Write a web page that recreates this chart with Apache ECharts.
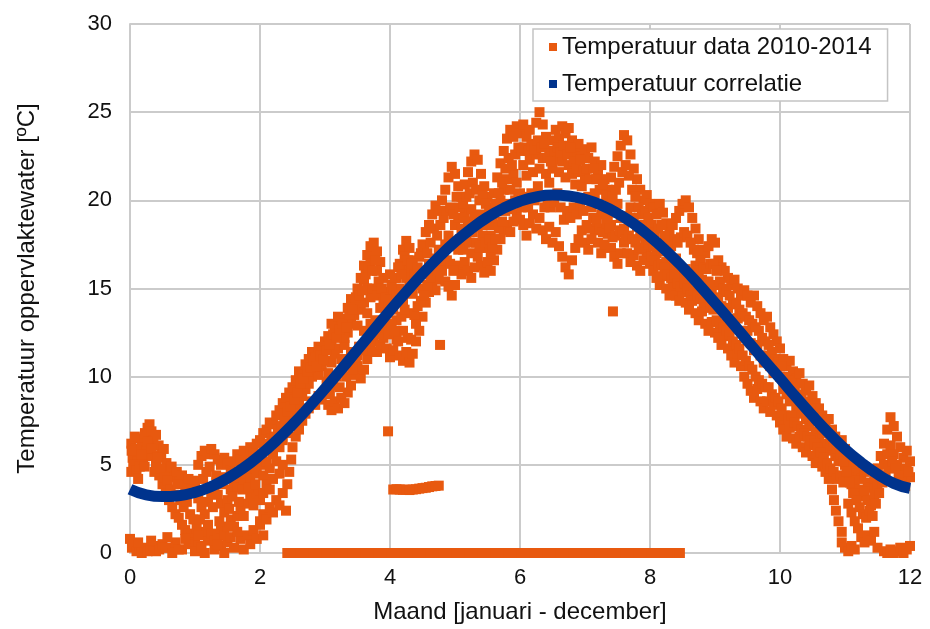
<!DOCTYPE html>
<html>
<head>
<meta charset="utf-8">
<script src="https://cdn.jsdelivr.net/npm/echarts@6/dist/echarts.min.js"></script>
<style>
  html, body { margin: 0; padding: 0; background: #fff; }
  #chart { width: 930px; height: 629px; }
</style>
</head>
<body>
<div id="chart"></div>
<script>
// Daily surface-water temperatures 2010-2014, folded onto one year: [month, °C]
const janFeb = [
  [0.02,6.2],[0.04,5.4],[0.06,4.7],[0.09,5.9],[0.12,5.2],[0.15,6.5],[0.18,6.0],[0.2,5.5],[0.23,6.8],[0.27,7.1],
  [0.3,7.3],[0.33,6.9],[0.36,6.4],[0.4,6.7],[0.44,6.1],[0.48,5.6],[0.52,5.9],[0.56,5.1],[0.6,4.6],[0.64,4.9],
  [0.68,4.3],[0.72,4.6],[0.76,4.0],[0.8,4.4],[0.85,3.8],[0.9,4.2],[0.95,3.6],[1.0,4.1],
  [0.02,4.6],[0.05,5.0],[0.1,4.7],[0.15,4.9],[0.2,5.3],[0.25,5.8],[0.3,5.6],[0.35,5.5],[0.4,5.0],[0.45,4.4],
  [0.5,3.9],[0.55,3.4],[0.6,3.0],[0.65,2.6],[0.7,2.2],[0.75,2.0],[0.8,1.6],[0.85,1.3],[0.9,1.1],[0.95,0.9],
  [1.0,0.6],[1.05,0.4],
  [0.0,0.8],[0.03,0.3],[0.06,0.5],[0.1,0.1],[0.14,0.2],[0.18,0.0],[0.22,0.3],[0.27,0.1],[0.32,0.2],[0.36,0.4],
  [0.4,0.1],[0.45,0.2],[0.5,0.5],[0.55,0.3],[0.6,0.3],[0.65,0.0],[0.7,0.6],[0.75,0.2],[0.8,0.2],[0.9,0.5],
  [1.0,0.1],[1.1,0.3],[1.15,0.0],[1.2,0.7],[1.3,0.2],[1.4,0.4],[1.45,0.0],[1.5,0.6],[1.6,0.3],[1.7,0.8],
  [1.75,0.2],[1.8,1.0],[1.85,0.5],[1.9,1.3],[1.95,0.8],[2.0,1.6],[2.05,1.0],
  [1.05,5.0],[1.1,5.5],[1.15,5.8],[1.2,5.6],[1.25,5.9],[1.3,5.6],[1.35,5.3],[1.4,5.0],[1.45,5.4],[1.5,5.1],
  [1.55,4.7],[1.6,5.2],[1.65,5.6],[1.7,5.3],[1.75,5.8],[1.8,5.5],[1.85,6.0],[1.9,5.7],[1.95,6.2],
  [1.0,3.6],[1.05,3.1],[1.1,2.6],[1.15,2.2],[1.2,2.9],[1.25,3.4],[1.3,3.8],[1.35,3.3],[1.4,2.8],[1.45,2.3],
  [1.5,3.0],[1.55,3.6],[1.6,4.0],[1.65,3.7],[1.7,4.3],[1.75,4.0],[1.8,4.5],[1.85,4.2],[1.9,4.8],[1.95,4.5],
  [1.15,1.2],[1.2,1.6],[1.25,1.1],[1.3,0.7],[1.35,1.0],[1.4,1.4],[1.45,1.0],[1.5,1.5],[1.55,1.9],[1.6,1.5],
  [1.65,2.1],[1.7,2.5],[1.75,2.1],[1.8,2.8],[1.85,3.2],[1.9,2.7],[1.95,3.4],[2.0,3.0],
  [0.025,5.8],[0.075,6.6],[0.125,4.2],[0.175,5.6],[0.225,4.9],[0.275,6.3],[0.325,5.9],[0.375,4.6],[0.425,5.4],[0.475,4.8],
  [0.525,4.3],[0.575,4.1],[0.625,3.6],[0.675,3.3],[0.725,3.9],[0.775,3.0],[0.825,2.6],[0.875,2.9],[0.925,2.2],[0.975,1.9],
  [1.025,1.4],[1.075,1.9],[1.125,4.2],[1.175,4.6],[1.225,4.9],[1.275,2.6],[1.325,4.4],[1.375,1.8],[1.425,3.9],[1.475,4.3],
  [1.525,2.5],[1.575,3.2],[1.625,4.6],[1.675,2.9],[1.725,3.6],[1.775,4.8],[1.825,3.7],[1.875,5.1],[1.925,3.9],[1.975,5.3],
  [0.125,0.6],[0.325,0.7],[0.575,0.9],[0.85,0.8],[1.05,1.0],[1.35,0.5],[1.55,0.9],[1.65,1.2]
];

const marApr = [
  [2.0,6.4],[2.05,6.8],[2.1,7.0],[2.15,7.4],[2.2,7.3],[2.25,7.8],[2.3,8.1],[2.35,8.5],[2.4,8.8],[2.45,9.1],
  [2.5,9.4],[2.55,9.8],[2.6,10.3],[2.65,10.1],[2.7,10.7],[2.75,11.0],[2.8,11.4],[2.85,11.1],[2.9,11.7],[2.95,11.5],
  [2.0,1.8],[2.05,2.2],[2.1,1.9],[2.15,2.6],[2.2,2.3],[2.25,3.0],[2.3,2.7],[2.35,3.4],[2.4,2.4],[2.42,3.9],
  [2.45,4.6],[2.48,5.3],[2.5,6.0],[2.55,6.6],[2.6,7.0],[2.65,7.5],[2.7,7.9],[2.75,8.2],[2.8,8.6],[2.85,8.4],
  [2.9,8.9],[2.95,8.7],
  [2.0,5.0],[2.05,4.4],[2.1,5.2],[2.15,4.8],[2.2,5.6],[2.25,5.2],[2.3,6.0],[2.35,6.4],[2.4,6.8],[2.45,7.2],
  [2.5,7.6],[2.55,8.0],[2.6,8.5],[2.65,8.9],[2.7,9.3],[2.75,9.6],[2.8,10.0],[2.85,10.4],[2.9,10.1],[2.95,10.6],
  [2.05,3.4],[2.1,3.9],[2.15,3.6],[2.2,4.2],[2.3,4.5],[2.35,5.0],
  [3.0,12.0],[3.05,12.3],[3.1,12.0],[3.15,12.6],[3.2,12.9],[3.25,12.4],[3.3,13.3],[3.35,13.9],[3.4,14.4],[3.45,14.1],
  [3.5,15.0],[3.55,15.6],[3.6,16.3],[3.65,16.9],[3.7,17.4],[3.75,17.6],[3.8,17.1],[3.85,16.5],[3.9,15.6],[3.95,14.8],
  [3.0,10.9],[3.05,10.2],[3.1,10.8],[3.15,11.3],[3.2,11.6],[3.25,11.0],[3.3,11.8],[3.35,12.5],[3.4,13.0],[3.45,13.5],
  [3.5,12.9],[3.55,13.8],[3.6,14.2],[3.65,13.6],[3.7,14.5],[3.75,15.0],[3.8,14.6],[3.85,13.9],[3.9,13.2],[3.95,13.6],
  [3.0,9.2],[3.05,8.4],[3.1,8.1],[3.15,8.6],[3.2,8.2],[3.25,8.8],[3.3,8.5],[3.35,9.1],[3.4,9.5],[3.45,10.1],
  [3.5,10.6],[3.55,9.9],[3.6,10.4],[3.65,11.0],[3.7,11.5],[3.75,12.0],[3.8,11.4],[3.85,11.8],[3.9,12.2],[3.95,11.6],
  [3.1,13.0],[3.2,13.4],[3.3,12.2],[3.4,11.4],[3.5,11.2],[3.6,12.6],[3.7,13.0],[3.8,12.8],[3.9,14.2],[3.6,15.5],
  [3.7,16.4],[3.8,16.0],[3.65,15.0],
  [2.025,5.6],[2.075,6.0],[2.125,6.2],[2.175,6.5],[2.225,6.6],[2.275,7.0],[2.325,7.2],[2.375,7.6],[2.425,8.0],[2.475,8.3],
  [2.525,8.7],[2.575,9.1],[2.625,9.6],[2.675,9.9],[2.725,10.3],[2.775,10.5],[2.825,10.9],[2.875,10.6],[2.925,11.2],[2.975,11.0],
  [3.025,11.5],[3.075,11.8],[3.125,12.4],[3.175,12.2],[3.225,12.7],[3.275,13.0],[3.325,12.8],[3.375,13.5],[3.425,13.8],[3.475,14.5],
  [3.525,14.6],[3.575,14.9],[3.625,15.8],[3.675,16.2],[3.725,16.0],[3.775,16.6],[3.825,15.4],[3.875,15.0],[3.925,14.5],[3.975,14.0],
  [3.025,9.7],[3.075,9.0],[3.125,9.5],[3.175,10.0],[3.225,9.4],[3.275,10.4],[3.325,10.0],[3.375,10.7],[3.425,10.4],[3.475,11.1],
  [3.525,11.7],[3.575,11.5],[3.625,11.9],[3.675,12.3],[3.725,12.6],[3.775,13.2],[3.825,12.4],[3.875,12.7],[3.925,12.8],[3.975,12.4]
];

const mayJun = [
  [4.0,14.2],[4.05,14.8],[4.1,15.6],[4.15,16.4],[4.2,17.2],[4.25,17.7],[4.3,17.3],[4.35,16.6],[4.4,16.0],[4.45,16.8],
  [4.5,17.5],[4.55,18.2],[4.6,18.6],[4.65,19.2],[4.7,19.7],[4.75,19.4],[4.8,20.0],[4.85,20.6],[4.9,21.3],[4.95,21.9],
  [4.0,14.4],[4.05,13.8],[4.1,14.6],[4.15,15.0],[4.2,14.3],[4.25,14.8],[4.3,15.3],[4.35,14.7],[4.4,15.2],[4.45,15.6],
  [4.5,15.0],[4.55,15.8],[4.6,16.4],[4.65,15.9],[4.7,16.7],[4.75,17.2],[4.8,16.5],[4.85,17.5],[4.9,18.0],[4.95,17.4],
  [4.0,11.1],[4.05,11.5],[4.1,12.1],[4.15,11.2],[4.2,10.9],[4.25,11.4],[4.3,10.8],[4.35,11.3],[4.4,12.0],[4.45,12.6],
  [4.5,13.4],[4.55,14.2],[4.6,14.8],[4.65,15.3],[4.7,14.9],[4.75,15.5],[4.8,16.0],[4.85,15.4],[4.9,15.1],[4.95,14.6],
  [4.0,15.8],[4.1,13.2],[4.2,12.6],[4.3,13.6],[4.4,13.0],[4.2,16.3],[4.3,16.0],[4.25,15.6],
  [5.0,21.5],[5.05,20.8],[5.1,20.2],[5.15,20.9],[5.2,21.6],[5.25,22.2],[5.3,22.6],[5.35,22.3],[5.4,21.5],[5.45,20.8],
  [5.5,20.2],[5.55,19.6],[5.6,20.4],[5.65,21.3],[5.7,22.1],[5.75,22.8],[5.8,23.5],[5.85,24.0],[5.9,23.6],[5.95,24.2],
  [5.0,18.6],[5.05,19.0],[5.1,18.4],[5.15,19.3],[5.2,18.8],[5.25,19.5],[5.3,19.0],[5.35,18.5],[5.4,19.2],[5.45,18.6],
  [5.5,19.0],[5.55,18.0],[5.6,18.6],[5.65,19.4],[5.7,20.0],[5.75,20.6],[5.8,21.2],[5.85,20.6],[5.9,21.5],[5.95,21.0],
  [5.0,15.2],[5.05,16.3],[5.1,15.8],[5.15,16.5],[5.2,16.0],[5.25,15.6],[5.3,16.2],[5.35,16.8],[5.4,16.3],[5.45,15.9],
  [5.5,16.5],[5.55,16.0],[5.6,16.6],[5.65,17.2],[5.7,17.8],[5.75,18.3],[5.8,18.6],[5.85,18.2],[5.9,18.8],[5.95,19.2],
  [5.05,17.2],[5.15,17.6],[5.25,17.0],[5.45,17.3],[5.55,17.0],
  [4.025,13.0],[4.075,12.6],[4.125,12.0],[4.175,13.4],[4.225,13.8],[4.275,12.2],[4.325,12.1],[4.375,13.5],[4.425,14.0],[4.475,14.3],
  [4.525,14.6],[4.575,15.2],[4.625,15.6],[4.675,16.2],[4.725,16.0],[4.775,16.8],[4.825,17.0],[4.875,16.6],[4.925,16.4],[4.975,16.0],
  [4.025,15.2],[4.075,15.6],[4.125,16.2],[4.175,15.8],[4.225,16.8],[4.275,16.6],[4.325,16.4],[4.375,15.8],[4.425,16.2],[4.475,17.0],
  [4.525,17.4],[4.575,17.0],[4.625,17.6],[4.675,18.4],[4.725,18.0],[4.775,18.6],[4.825,19.0],[4.875,19.4],[4.925,19.6],[4.975,19.2],
  [5.025,20.2],[5.075,19.6],[5.125,19.8],[5.175,20.2],[5.225,20.4],[5.275,21.0],[5.325,20.6],[5.375,20.0],[5.425,20.3],[5.475,19.8],
  [5.525,19.4],[5.575,19.0],[5.625,19.8],[5.675,20.4],[5.725,21.0],[5.775,21.8],[5.825,22.4],[5.875,22.0],[5.925,22.6],[5.975,23.0],
  [5.025,17.6],[5.075,17.8],[5.125,17.2],[5.175,18.0],[5.225,17.6],[5.275,18.2],[5.325,17.6],[5.375,17.3],[5.425,18.0],[5.475,17.6],
  [5.525,17.8],[5.575,17.3],[5.625,17.8],[5.675,18.4],[5.725,18.8],[5.775,19.4],[5.825,19.8],[5.875,19.5],[5.925,20.0],[5.975,20.2]
];

const julAug = [
  [6.0,23.8],[6.05,24.3],[6.1,23.6],[6.15,24.0],[6.2,23.2],[6.25,24.4],[6.3,25.0],[6.35,24.3],[6.4,23.6],[6.45,22.8],
  [6.5,23.4],[6.55,24.0],[6.6,23.5],[6.65,24.2],[6.7,23.8],[6.75,24.1],[6.8,23.4],[6.85,22.7],[6.9,23.2],[6.95,22.5],
  [6.0,20.4],[6.05,22.0],[6.1,21.4],[6.15,22.3],[6.2,21.6],[6.25,22.6],[6.3,21.8],[6.35,22.4],[6.4,21.5],[6.45,21.0],
  [6.5,21.8],[6.55,22.3],[6.6,21.6],[6.65,22.2],[6.7,21.3],[6.75,22.0],[6.8,21.5],[6.85,20.9],[6.9,21.6],[6.95,20.8],
  [6.0,18.9],[6.05,18.6],[6.1,18.0],[6.15,18.7],[6.2,19.2],[6.25,18.4],[6.3,19.0],[6.35,18.3],[6.4,17.8],[6.45,18.5],
  [6.5,17.6],[6.55,18.2],[6.6,17.4],[6.65,16.8],[6.7,16.2],[6.75,15.8],[6.8,16.6],[6.85,17.3],[6.9,17.8],[6.95,18.3],
  [7.0,22.9],[7.05,22.4],[7.1,23.0],[7.15,22.2],[7.2,21.6],[7.25,22.0],[7.3,21.2],[7.35,20.6],[7.4,21.3],[7.45,21.9],
  [7.5,22.5],[7.55,23.1],[7.6,23.7],[7.65,23.4],[7.7,22.6],[7.75,21.8],[7.8,21.2],[7.85,20.6],[7.9,20.0],[7.95,20.3],
  [7.0,21.3],[7.05,20.2],[7.1,19.6],[7.15,20.4],[7.2,19.8],[7.25,19.2],[7.3,19.7],[7.35,19.0],[7.4,18.6],[7.45,19.3],
  [7.5,19.8],[7.55,19.0],[7.6,18.4],[7.65,19.1],[7.7,19.6],[7.75,19.0],[7.8,18.5],[7.85,18.0],[7.9,18.6],[7.95,18.2],
  [7.0,17.6],[7.05,17.2],[7.1,17.8],[7.15,18.3],[7.2,17.6],[7.25,17.0],[7.3,17.5],[7.35,18.1],[7.4,17.3],[7.45,16.8],
  [7.5,16.4],[7.55,17.0],[7.6,17.6],[7.65,17.0],[7.7,16.5],[7.75,16.9],[7.8,16.3],[7.85,16.0],[7.9,16.6],[7.95,17.1],
  [6.025,22.8],[6.075,23.0],[6.125,22.8],[6.175,23.1],[6.225,22.9],[6.275,23.4],[6.325,23.0],[6.375,23.2],[6.425,22.4],[6.475,22.2],
  [6.525,22.8],[6.575,23.0],[6.625,22.7],[6.675,23.1],[6.725,22.6],[6.775,23.0],[6.825,22.2],[6.875,21.8],[6.925,22.3],[6.975,21.7],
  [6.025,19.6],[6.075,20.2],[6.125,19.6],[6.175,20.4],[6.225,20.0],[6.275,20.8],[6.325,20.3],[6.375,19.6],[6.425,19.8],[6.475,19.6],
  [6.525,19.9],[6.575,20.4],[6.625,19.6],[6.675,18.9],[6.725,19.4],[6.775,19.0],[6.825,19.6],[6.875,19.2],[6.925,19.7],[6.975,19.4],
  [7.025,21.8],[7.075,21.2],[7.125,21.8],[7.175,21.2],[7.225,20.6],[7.275,20.9],[7.325,20.3],[7.375,19.8],[7.425,20.2],[7.475,20.6],
  [7.525,21.0],[7.575,21.6],[7.625,22.0],[7.675,21.4],[7.725,20.6],[7.775,20.2],[7.825,19.6],[7.875,19.2],[7.925,19.4],[7.975,19.0],
  [7.025,18.6],[7.075,18.4],[7.125,19.0],[7.175,18.8],[7.225,18.4],[7.275,18.2],[7.325,18.7],[7.375,18.4],[7.425,17.9],[7.475,18.0],
  [7.525,18.3],[7.575,18.2],[7.625,17.8],[7.675,18.0],[7.725,17.8],[7.775,17.6],[7.825,17.2],[7.875,17.3],[7.925,17.6],[7.975,17.5]
];

const sepOct = [
  [8.0,19.8],[8.05,19.6],[8.1,19.2],[8.15,19.8],[8.2,19.3],[8.25,18.7],[8.3,18.2],[8.35,18.6],[8.4,19.0],[8.45,19.4],
  [8.5,19.8],[8.55,20.0],[8.6,19.6],[8.65,19.0],[8.7,18.4],[8.75,17.8],[8.8,17.2],[8.85,17.0],[8.9,17.4],[8.95,17.8],
  [8.0,17.8],[8.05,17.4],[8.1,17.0],[8.15,17.6],[8.2,17.1],[8.25,16.5],[8.3,16.9],[8.35,16.2],[8.4,16.7],[8.45,16.0],
  [8.5,15.6],[8.55,16.1],[8.6,15.5],[8.65,15.8],[8.7,16.3],[8.75,16.0],[8.8,15.5],[8.85,15.0],[8.9,15.4],[8.95,14.8],
  [8.0,16.4],[8.05,16.0],[8.1,15.6],[8.15,15.2],[8.2,15.7],[8.25,15.0],[8.3,14.6],[8.35,15.1],[8.4,14.6],[8.45,14.3],
  [8.5,14.8],[8.55,14.2],[8.6,13.8],[8.65,14.3],[8.7,13.6],[8.75,13.2],[8.8,13.7],[8.85,13.0],[8.9,12.6],[8.95,13.1],
  [9.0,17.6],[9.05,16.6],[9.1,16.2],[9.15,16.0],[9.2,15.6],[9.25,15.2],[9.3,15.5],[9.35,15.0],[9.4,14.6],[9.45,14.9],
  [9.5,14.6],[9.55,14.2],[9.6,14.6],[9.65,14.0],[9.7,13.6],[9.75,13.2],[9.8,13.4],[9.85,12.8],[9.9,12.4],[9.95,12.0],
  [9.0,15.2],[9.05,14.5],[9.1,14.0],[9.15,13.6],[9.2,13.9],[9.25,13.3],[9.3,12.9],[9.35,13.3],[9.4,12.6],[9.45,12.2],
  [9.5,12.6],[9.55,11.9],[9.6,11.5],[9.65,11.8],[9.7,11.2],[9.75,10.8],[9.8,11.2],[9.85,10.6],[9.9,10.2],[9.95,10.5],
  [9.0,12.5],[9.05,12.2],[9.1,11.8],[9.15,12.3],[9.2,11.6],[9.25,11.2],[9.3,10.8],[9.35,11.3],[9.4,10.6],[9.45,10.0],
  [9.5,9.6],[9.55,9.2],[9.6,8.8],[9.65,9.3],[9.7,8.6],[9.75,8.2],[9.8,8.6],[9.85,8.0],[9.9,8.4],[9.95,7.8],
  [8.025,18.6],[8.075,18.2],[8.125,18.4],[8.175,18.6],[8.225,18.0],[8.275,17.7],[8.325,17.4],[8.375,17.8],[8.425,17.6],[8.475,17.9],
  [8.525,18.2],[8.575,18.0],[8.625,17.6],[8.675,17.2],[8.725,17.0],[8.775,16.6],[8.825,16.2],[8.875,16.1],[8.925,16.4],[8.975,16.4],
  [8.025,16.8],[8.075,16.6],[8.125,16.3],[8.175,16.4],[8.225,16.2],[8.275,15.8],[8.325,15.6],[8.375,15.8],[8.425,15.3],[8.475,15.1],
  [8.525,15.3],[8.575,15.0],[8.625,14.6],[8.675,14.9],[8.725,14.6],[8.775,14.4],[8.825,14.2],[8.875,13.9],[8.925,14.0],[8.975,13.8],
  [9.025,16.0],[9.075,15.4],[9.125,15.0],[9.175,14.8],[9.225,14.6],[9.275,14.2],[9.325,14.1],[9.375,13.8],[9.425,13.6],[9.475,13.4],
  [9.525,13.2],[9.575,13.0],[9.625,12.8],[9.675,12.6],[9.725,12.2],[9.775,12.0],[9.825,11.8],[9.875,11.4],[9.925,11.0],[9.975,10.8],
  [9.025,13.2],[9.075,13.0],[9.125,12.8],[9.175,12.6],[9.225,12.4],[9.275,12.0],[9.325,11.8],[9.375,11.6],[9.425,11.2],[9.475,10.9],
  [9.525,10.6],[9.575,10.4],[9.625,10.0],[9.675,9.8],[9.725,9.6],[9.775,9.4],[9.825,9.4],[9.875,9.0],[9.925,8.8],[9.975,8.6]
];

const novDec = [
  [10.0,11.6],[10.05,11.0],[10.1,10.6],[10.15,10.9],[10.2,10.3],[10.25,9.9],[10.3,10.2],[10.35,9.6],[10.4,9.2],[10.45,9.5],
  [10.5,8.9],[10.55,8.5],[10.6,8.2],[10.65,7.8],[10.7,7.4],[10.75,7.6],[10.8,7.0],[10.85,6.6],[10.9,6.2],[10.95,6.4],
  [10.0,10.0],[10.05,9.3],[10.1,9.0],[10.15,8.6],[10.2,8.9],[10.25,8.3],[10.3,7.9],[10.35,8.2],[10.4,7.6],[10.45,7.2],
  [10.5,7.5],[10.55,6.9],[10.6,6.5],[10.65,6.8],[10.7,6.2],[10.75,5.8],[10.8,6.1],[10.85,5.5],[10.9,5.2],[10.95,5.6],
  [10.0,7.4],[10.05,7.0],[10.1,6.6],[10.15,7.1],[10.2,6.5],[10.25,6.2],[10.3,6.6],[10.35,6.0],[10.4,5.7],[10.45,6.1],
  [10.5,5.5],[10.55,5.1],[10.6,5.5],[10.65,4.9],[10.7,4.6],[10.75,4.2],[10.8,3.6],[10.83,3.0],[10.86,2.4],[10.9,1.8],
  [10.95,1.2],
  [11.0,5.9],[11.05,5.2],[11.1,4.8],[11.15,5.0],[11.2,4.5],[11.25,4.2],[11.3,4.6],[11.35,4.0],[11.4,3.7],[11.45,4.2],
  [11.5,4.8],[11.55,5.5],[11.6,6.2],[11.65,7.0],[11.7,7.7],[11.75,7.2],[11.8,6.6],[11.85,6.0],[11.9,5.4],[11.95,5.8],
  [12.0,5.2],
  [11.0,5.0],[11.05,4.3],[11.1,3.9],[11.15,4.1],[11.2,3.6],[11.25,3.2],[11.3,3.5],[11.35,3.0],[11.4,2.7],[11.45,3.3],
  [11.5,3.8],[11.55,4.4],[11.6,5.0],[11.65,5.6],[11.7,6.1],[11.75,5.6],[11.8,5.0],[11.85,4.6],[11.9,4.2],[11.95,4.8],
  [12.0,4.3],
  [11.05,2.8],[11.1,2.3],[11.15,1.8],[11.2,1.4],[11.25,0.9],[11.3,0.6],[11.35,1.0],[11.4,0.7],[11.45,1.2],
  [10.95,0.6],[11.0,0.3],[11.05,0.1],[11.1,0.4],[11.15,0.2],[11.5,0.3],[11.6,0.1],[11.65,0.0],[11.7,0.2],[11.75,0.0],
  [11.8,0.1],[11.85,0.3],[11.9,0.0],[11.95,0.2],[12.0,0.4],
  [10.025,10.6],[10.075,10.0],[10.125,9.8],[10.175,9.6],[10.225,9.4],[10.275,9.0],[10.325,8.9],[10.375,8.6],[10.425,8.4],[10.475,8.2],
  [10.525,7.9],[10.575,7.6],[10.625,7.2],[10.675,7.0],[10.725,6.8],[10.775,6.5],[10.825,6.3],[10.875,5.9],[10.925,5.6],[10.975,5.2],
  [10.025,8.2],[10.075,7.8],[10.125,7.6],[10.175,7.8],[10.225,7.4],[10.275,7.2],[10.325,7.0],[10.375,6.8],[10.425,6.6],[10.475,6.4],
  [10.525,6.2],[10.575,6.0],[10.625,5.7],[10.675,5.4],[10.725,5.1],[10.775,4.8],[10.825,4.6],[10.875,4.2],[10.925,4.4],[10.975,4.0],
  [11.025,4.6],[11.075,4.0],[11.125,3.4],[11.175,3.0],[11.225,2.6],[11.275,2.2],[11.325,2.0],[11.375,2.4],[11.425,2.1],[11.475,2.8],
  [11.525,3.4],[11.575,4.0],[11.625,4.4],[11.675,4.8],[11.725,5.2],[11.775,4.8],[11.825,4.4],[11.875,4.0],[11.925,3.8],[11.975,4.6]
];

// Logger outage: readings stored as 0 °C
const zeroMonths = [
  2.42,2.52,2.62,2.72,2.82,2.92,3.02,3.12,3.22,3.32,3.42,3.52,3.62,3.72,3.82,3.92,4.02,4.12,4.22,4.32,
  4.42,4.52,4.62,4.72,4.82,4.92,5.02,5.12,5.22,5.32,5.42,5.52,5.62,5.72,5.82,5.92,6.02,6.12,6.22,6.32,
  6.42,6.52,6.62,6.72,6.82,6.92,7.02,7.12,7.22,7.32,7.42,7.52,7.62,7.72,7.82,7.92,8.02,8.12,8.22,8.32,
  8.42,8.46
];

// Short run of low readings in late April, plus isolated outliers
const lowRun = [
  [4.05,3.6],[4.1,3.62],[4.15,3.6],[4.2,3.58],[4.25,3.6],[4.3,3.57],[4.35,3.6],[4.4,3.62],[4.45,3.65],
  [4.5,3.68],[4.55,3.7],[4.6,3.74],[4.65,3.78],[4.7,3.8],[4.75,3.82]
];
const outliers = [[3.97,6.9],[4.77,11.8],[7.43,13.7]];

// Fitted seasonal correlation
const fitMonths = [0,0.25,0.5,0.75,1,1.25,1.5,1.75,2,2.25,2.5,2.75,3,3.25,3.5,3.75,4,4.25,4.5,4.75,5,5.25,5.5,5.75,
  6,6.25,6.5,6.75,7,7.25,7.5,7.75,8,8.25,8.5,8.75,9,9.25,9.5,9.75,10,10.25,10.5,10.75,11,11.25,11.5,11.75,12];
const fitTemp = [3.62,3.30,3.20,3.25,3.44,3.77,4.24,4.83,5.55,6.37,7.28,8.27,9.32,10.41,11.53,12.64,13.75,14.81,15.83,16.78,
  17.64,18.39,19.04,19.56,19.95,20.20,20.30,20.25,20.06,19.73,19.26,18.67,17.95,17.13,16.22,15.23,14.18,13.12,12.03,10.95,
  9.90,8.82,7.78,6.80,5.90,5.13,4.47,3.95,3.66];

const xTicks = { min: 0, max: 12, step: 2 };
const yTicks = { min: 0, max: 30, step: 5 };

const ORANGE = '#E8590F';
const BLUE = '#00338D';
const GRID = '#cbcbcb';
const FONT = 'Liberation Sans, Arial, sans-serif';

const measured = [].concat(janFeb, marApr, mayJun, julAug, sepOct, novDec,
  zeroMonths.map(m => [m, 0]), lowRun, outliers);
const fitted = fitMonths.map((m, i) => [m, fitTemp[i]]);

const chart = echarts.init(document.getElementById('chart'), null, { renderer: 'canvas' });
chart.setOption({
  animation: false,
  backgroundColor: '#ffffff',
  textStyle: { fontFamily: FONT },
  grid: { left: 130, right: 20, top: 24, bottom: 76 },
  legend: {
    orient: 'vertical',
    left: 533, top: 29,
    padding: [6, 16, 5, 16],
    itemGap: 13,
    itemWidth: 8, itemHeight: 8,
    icon: 'rect',
    backgroundColor: '#ffffff',
    borderColor: '#c4c4c4',
    borderWidth: 1.5,
    textStyle: { fontFamily: FONT, fontSize: 24, color: '#111' },
    data: ['Temperatuur data 2010-2014', 'Temperatuur correlatie']
  },
  xAxis: {
    type: 'value',
    min: xTicks.min, max: xTicks.max, interval: xTicks.step,
    name: 'Maand [januari - december]',
    nameLocation: 'middle', nameGap: 47,
    nameTextStyle: { fontFamily: FONT, fontSize: 24, color: '#111' },
    axisLine: { show: true, lineStyle: { color: GRID, width: 2 } },
    axisTick: { show: false },
    axisLabel: { fontFamily: FONT, fontSize: 22, color: '#111', margin: 14 },
    splitLine: { show: true, lineStyle: { color: GRID, width: 2 } }
  },
  yAxis: {
    type: 'value',
    min: yTicks.min, max: yTicks.max, interval: yTicks.step,
    name: 'Temperatuur oppervlaktewater [ºC]',
    nameLocation: 'middle', nameGap: 91, nameRotate: 90,
    nameTextStyle: { fontFamily: FONT, fontSize: 24, color: '#111' },
    axisLine: { show: true, lineStyle: { color: GRID, width: 2 } },
    axisTick: { show: false },
    axisLabel: { fontFamily: FONT, fontSize: 22, color: '#111', margin: 18 },
    splitLine: { show: true, lineStyle: { color: GRID, width: 2 } }
  },
  series: [
    {
      name: 'Temperatuur data 2010-2014',
      type: 'scatter',
      symbol: 'rect',
      symbolSize: 10,
      clip: false,
      itemStyle: { color: ORANGE, opacity: 1 },
      data: measured,
      z: 2
    },
    {
      name: 'Temperatuur correlatie',
      type: 'line',
      smooth: true,
      showSymbol: false,
      symbol: 'rect',
      lineStyle: { color: BLUE, width: 11, cap: 'butt' },
      itemStyle: { color: BLUE },
      data: fitted,
      z: 3
    }
  ]
});
</script>
</body>
</html>
